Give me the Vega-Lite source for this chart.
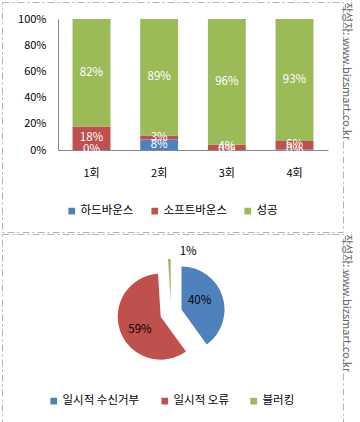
{
  "$schema": "https://vega.github.io/schema/vega-lite/v6.json",
  "padding": {"left": 1, "top": 1, "right": 0, "bottom": 0},
  "background": "white",
  "spacing": 0,
  "resolve": {"scale": {"color": "independent"}, "legend": {"color": "independent"}},
  "config": {
    "font": "Noto Sans CJK KR",
    "view": {"stroke": "#b3b3b3", "strokeDash": [7, 3, 2, 3], "strokeWidth": 1},
    "axis": {"labelFont": "Noto Sans CJK KR", "labelFontSize": 11, "labelColor": "#000000", "ticks": false, "grid": false, "domainColor": "#868686", "title": null},
    "legend": {"labelFont": "Noto Sans CJK KR", "labelColor": "#000000", "symbolType": "square", "symbolStrokeWidth": 0, "padding": 0, "title": null},
    "title": {"orient": "right", "anchor": "start", "fontSize": 11, "fontWeight": "normal", "color": "#666666", "font": "Noto Sans CJK KR"}
  },
  "vconcat": [
    {
      "width": 341,
      "height": 230,
      "title": {"text": "작성자: www.bizsmart.co.kr", "offset": -2},
      "data": {"values": [
        {"round": "1회", "type": "하드바운스", "o": 1, "v": 0.0},
        {"round": "1회", "type": "소프트바운스", "o": 2, "v": 0.18},
        {"round": "1회", "type": "성공", "o": 3, "v": 0.82},
        {"round": "2회", "type": "하드바운스", "o": 1, "v": 0.08},
        {"round": "2회", "type": "소프트바운스", "o": 2, "v": 0.03},
        {"round": "2회", "type": "성공", "o": 3, "v": 0.89},
        {"round": "3회", "type": "하드바운스", "o": 1, "v": 0.0},
        {"round": "3회", "type": "소프트바운스", "o": 2, "v": 0.04},
        {"round": "3회", "type": "성공", "o": 3, "v": 0.96},
        {"round": "4회", "type": "하드바운스", "o": 1, "v": 0.004},
        {"round": "4회", "type": "소프트바운스", "o": 2, "v": 0.064},
        {"round": "4회", "type": "성공", "o": 3, "v": 0.932}
      ]},
      "encoding": {
        "x": {"field": "round", "type": "nominal", "sort": null,
          "scale": {"range": [56, 326], "paddingInner": 0.44, "paddingOuter": 0.215},
          "axis": {"labelAngle": 0, "offset": -82, "labelPadding": 17}},
        "order": {"field": "o", "type": "quantitative"}
      },
      "layer": [
        {
          "mark": {"type": "bar"},
          "encoding": {
            "y": {"field": "v", "type": "quantitative", "stack": "normalize",
              "scale": {"domain": [0, 1], "range": [148, 17]},
              "axis": {"format": ".0%", "offset": -56, "values": [0, 0.2, 0.4, 0.6, 0.8, 1], "labelPadding": 12}},
            "color": {"field": "type", "type": "nominal",
              "scale": {"domain": ["하드바운스", "소프트바운스", "성공"], "range": ["#4F81BD", "#C0504D", "#9BBB59"]},
              "legend": {"orient": "none", "legendX": 64, "legendY": 203, "direction": "horizontal", "symbolSize": 45, "labelFontSize": 11.5, "columnPadding": 15, "labelOffset": 3}}
          }
        },
        {
          "mark": {"type": "text", "color": "white", "fontSize": 11.5, "font": "Noto Sans CJK KR"},
          "encoding": {
            "y": {"field": "v", "type": "quantitative", "stack": "normalize", "bandPosition": 0.5},
            "detail": {"field": "type"},
            "text": {"field": "v", "type": "quantitative", "format": ".0%"}
          }
        }
      ]
    },
    {
      "width": 341,
      "height": 190,
      "title": {"text": "작성자: www.bizsmart.co.kr", "offset": -2},
      "data": {"values": [
        {"cat": "일시적 수신거부", "o": 1, "v": 0.40},
        {"cat": "일시적 오류", "o": 2, "v": 0.59},
        {"cat": "블러킹", "o": 3, "v": 0.01}
      ]},
      "layer": [
        {
          "mark": {"type": "point", "opacity": 0, "size": 0, "strokeWidth": 0},
          "encoding": {
            "x": {"datum": 0, "type": "quantitative", "axis": null, "scale": {"domain": [-1, 1]}},
            "y": {"datum": 0, "type": "quantitative", "axis": null, "scale": {"domain": [-1, 1]}}
          }
        },
        {
          "encoding": {
            "theta": {"field": "v", "type": "quantitative", "stack": true, "scale": {"domain": [0, 1]}},
            "order": {"field": "o", "type": "quantitative"},
            "detail": {"field": "cat"}
          },
          "layer": [
            {
              "mark": {"type": "arc", "outerRadius": 43, "x": 179.5, "y": 75.6},
              "encoding": {
                "color": {"field": "cat", "type": "nominal",
                  "scale": {"domain": ["일시적 수신거부", "일시적 오류", "블러킹"], "range": ["#4F81BD", "#C0504D", "#9BBB59"]},
                  "legend": {"orient": "none", "legendX": 46, "legendY": 161, "direction": "horizontal", "symbolSize": 45, "labelFontSize": 11.5, "columnPadding": 19, "labelOffset": 3}},
                "fillOpacity": {"condition": {"test": "datum.o == 1", "value": 1}, "value": 0}
              }
            },
            {
              "mark": {"type": "arc", "outerRadius": 43, "x": 158.7, "y": 82.7},
              "encoding": {
                "color": {"field": "cat", "type": "nominal"},
                "fillOpacity": {"condition": {"test": "datum.o == 2", "value": 1}, "value": 0}
              }
            },
            {
              "mark": {"type": "arc", "outerRadius": 43, "x": 168.7, "y": 68},
              "encoding": {
                "color": {"field": "cat", "type": "nominal"},
                "fillOpacity": {"condition": {"test": "datum.o == 3", "value": 1}, "value": 0}
              }
            },
            {
              "mark": {"type": "text", "radius": 19, "x": 179.5, "y": 75.6, "dy": -3, "fontSize": 11.5, "color": "#000000", "font": "Noto Sans CJK KR"},
              "encoding": {"text": {"condition": {"test": "datum.o == 1", "field": "v", "type": "quantitative", "format": ".0%"}, "value": ""}}
            },
            {
              "mark": {"type": "text", "radius": 22, "x": 158.7, "y": 82.7, "dy": 6, "fontSize": 11.5, "color": "#000000", "font": "Noto Sans CJK KR"},
              "encoding": {"text": {"condition": {"test": "datum.o == 2", "field": "v", "type": "quantitative", "format": ".0%"}, "value": ""}}
            },
            {
              "mark": {"type": "text", "radius": 50, "x": 168.7, "y": 68, "dx": 19, "fontSize": 11.5, "color": "#000000", "font": "Noto Sans CJK KR"},
              "encoding": {"text": {"condition": {"test": "datum.o == 3", "field": "v", "type": "quantitative", "format": ".0%"}, "value": ""}}
            }
          ]
        }
      ]
    }
  ]
}
